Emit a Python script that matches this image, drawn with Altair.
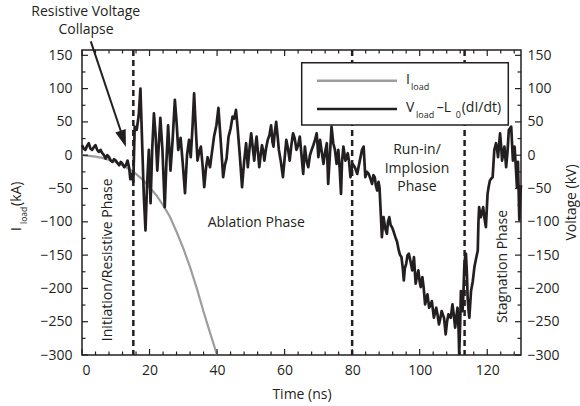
import altair as alt
import pandas as pd

# ---------------- data ----------------
volt_t = [0, 0.5, 1.0, 1.5, 2.0, 2.5, 3.0, 3.5, 4.0, 4.5, 5.0, 5.5, 6.0, 6.5, 7.0, 7.5, 8.0, 8.5, 9.0, 9.5,
          10.0, 10.5, 11.0, 11.5, 12.0, 12.5, 13.0, 13.5, 14.0, 14.3, 14.7, 15.2, 15.6, 16.2, 16.8, 17.3, 17.8,
          18.3, 18.8, 19.3, 19.8, 20.3, 20.8, 21.3, 21.8, 22.3, 22.8, 23.2, 23.8, 24.5, 25.0, 25.5, 26.2, 26.8,
          27.5, 28.0, 28.5, 29.2, 29.8, 30.5, 31.1, 31.7, 32.2, 32.7, 33.2, 33.7, 34.2, 34.7, 35.2, 35.7, 36.2,
          36.7, 37.2, 37.9, 38.5, 39.1, 39.8, 40.4, 41.1, 41.8, 42.3, 42.8, 43.4, 44.0, 44.6, 45.1, 45.6, 46.1,
          46.8, 47.4, 48.0, 48.6, 49.1, 49.6, 50.1, 50.6, 51.0, 51.4, 51.7, 52.1, 52.5, 52.9, 53.3, 53.7, 54.0,
          54.5, 55.0, 55.5, 56.0, 56.4, 56.7, 57.1, 57.5, 57.9, 58.3, 58.9, 59.5, 60.0, 60.5, 61.0, 61.5, 62.0,
          62.5, 63.0, 63.5, 64.0, 64.5, 65.0, 65.5, 66.0, 66.5, 67.0, 67.5, 68.0, 68.5, 69.0, 69.5, 70.0, 70.5,
          71.0, 71.5, 72.0, 72.5, 72.9, 73.4, 73.9, 74.4, 74.9, 75.4, 75.9, 76.3, 76.7, 77.0, 77.4, 78.0, 78.7,
          79.1, 79.5, 80.1, 80.8, 81.5, 82.2, 82.9, 83.4, 83.9, 84.4, 84.9, 85.4, 85.9, 86.3, 86.7, 87.0, 87.4,
          87.8, 88.1, 88.5, 88.8, 89.3, 89.8, 90.3, 90.6, 91.0, 91.4, 91.8, 92.3, 92.8, 93.3, 93.8, 94.2, 94.6,
          95.0, 95.3, 95.6, 96.0, 96.4, 96.8, 97.3, 97.8, 98.3, 98.8, 99.3, 99.6, 100.0, 100.3, 100.8, 101.2,
          101.6, 102.0, 102.3, 102.8, 103.2, 103.6, 104.2, 104.6, 104.9, 105.3, 105.7, 106.1, 106.5, 106.9,
          107.2, 107.7, 108.1, 108.5, 108.8, 109.2, 109.7, 110.1, 110.5, 110.8, 111.2, 111.5, 111.7, 112.0,
          112.2, 112.7, 113.0, 113.2, 113.5, 113.7, 114.0, 114.2, 114.5, 114.7, 115.0, 115.2, 115.7, 116.2,
          116.7, 117.2, 117.4, 117.6, 118.1, 118.5, 118.8, 119.2, 119.6, 120.1, 120.5, 120.8, 121.2, 121.6,
          122.1, 122.6, 122.9, 123.2, 123.8, 124.1, 124.4, 124.8, 125.1, 125.6, 126.0, 126.4, 127.1, 127.6,
          128.1, 128.5, 128.8, 129.1, 129.5, 129.8, 130.0]
volt_v = [15, 10, 8, 14, 18, 10, 8, 12, 15, 8, 5, 8, 3, 0, -5, 0, -3, -8, -10, -6,
          -8, -12, -15, -10, -13, -18, -15, -8, -20, -36, -28, -40, 43, 38, 60, 100, 20,
          -60, -113, -40, 8, -72, 10, 63, 30, -23, 20, 56, 10, -78, -10, 45, -23, 20,
          83, 50, 8, 26, -10, -57, 0, 23, -3, 40, 93, 40, -8, 5, 13, -15, -48,
          -20, -3, -18, 5, 28, 45, 71, 20, -33, -15, -5, 28, 40, 58, 55, 68, 40,
          -5, -48, -10, 18, -18, 10, 33, 10, -8, 15, 28, 5, -18, 0, 15, 5, -8,
          10, 23, 30, 45, 20, 13, 35, 50, 30, 8, -10, -33, -5, 23, 10, -8, 15,
          33, 25, 8, 15, 28, 0, -28, 13, -8, -18, 0, 8, 15, 23, 33, -3, 23,
          5, -13, 5, 18, -43, 0, 43, 18, 8, -13, 8, -20, -58, -10, 13, -8, 3,
          -10, -33, -13, -18, -28, -10, 8, 13, -33, -25, -28, -35, -43, -30, -33, -45, -53,
          -40, -48, -90, -123, -93, -110, -118, -100, -93, -105, -108, -115, -123, -130, -143, -150, -153,
          -170, -188, -170, -163, -150, -148, -160, -173, -153, -193, -180, -173, -190, -198, -183, -200,
          -224, -215, -209, -229, -225, -219, -244, -235, -229, -240, -254, -245, -234, -240,
          -244, -269, -250, -239, -242, -244, -224, -240, -259, -245, -229, -260, -298, -250,
          -204, -234, -200, -168, -150, -148, -180, -214, -235, -244, -220, -204, -190, -168,
          -155, -143, -100, -78, -93, -85, -78, -95, -108, -58, -45, -38, -35, -33,
          8, 18, 10, -3, 33, 15, -8, 5, 13, -18, 5, 38, 43, -8,
          13, -20, -48, -10, -97, -60, -45]

cur_t = [0, 2, 4, 6, 8, 10, 12, 14, 16, 18, 20, 22, 24, 26, 28, 30, 32, 34, 36, 38, 40]
cur_i = [0, -1, -2, -4, -7, -10, -15, -21, -28, -37, -48, -60, -75, -92, -115, -140, -168, -200, -235, -268, -300]

phase_bounds = [15.2, 80.0, 113.3]

x_major = [0, 20, 40, 60, 80, 100, 120]
x_minor = [4, 8, 12, 16, 24, 28, 32, 36, 44, 48, 52, 56, 64, 68, 72, 76, 84, 88, 92, 96,
           104, 108, 112, 116, 124, 128]
y_major = [-300, -250, -200, -150, -100, -50, 0, 50, 100, 150]
y_minor = [-275, -225, -175, -125, -75, -25, 25, 75, 125]

# ---------------- styling ----------------
W, H = 439, 305
INK = "#231f20"
GRAY = "#9d9d9d"
FONT = "Open Sans"

xs = alt.Scale(domain=[0, 130], nice=False, zero=False)
ys = alt.Scale(domain=[-300, 158], nice=False, zero=False)
x_axis = alt.Axis(values=x_major, ticks=False, domain=False, grid=False, title="Time (ns)",
                  labelPadding=8, titlePadding=10)
y_axis = alt.Axis(values=y_major, ticks=False, domain=False, grid=False, title=None, labelPadding=10)
y_axis_r = alt.Axis(values=y_major, ticks=False, domain=False, grid=False, title=None,
                    labelPadding=6, orient="right")


def X(f):
    return alt.X(f, type="quantitative", scale=xs, axis=x_axis)


def Y(f):
    return alt.Y(f, type="quantitative", scale=ys, axis=y_axis)


volt = pd.DataFrame({"t": volt_t, "v": volt_v})
cur = pd.DataFrame({"t": cur_t, "v": cur_i})
one = pd.DataFrame({"a": [0]})

gray_line = alt.Chart(cur).mark_line(color=GRAY, strokeWidth=2.2).encode(x=X("t"), y=Y("v"))
volt_line = alt.Chart(volt).mark_line(color=INK, strokeWidth=2.7, strokeJoin="round").encode(x=X("t"), y=Y("v"))

dashes = alt.Chart(pd.DataFrame({"t": phase_bounds})).mark_rule(
    color=INK, strokeWidth=2.5, strokeDash=[6, 4]).encode(x=X("t"))

# tick marks (inward, MATLAB style)
xmaj = pd.DataFrame({"t": x_major})
xmin = pd.DataFrame({"t": x_minor})
ymaj = pd.DataFrame({"v": y_major})
ymin = pd.DataFrame({"v": y_minor})
tick_layers = [
    alt.Chart(xmaj).mark_rule(color=INK, strokeWidth=1.2).encode(x=X("t"), y=alt.value(H), y2=alt.value(H - 6)),
    alt.Chart(xmin).mark_rule(color=INK, strokeWidth=1.2).encode(x=X("t"), y=alt.value(H), y2=alt.value(H - 3.5)),
    alt.Chart(xmaj).mark_rule(color=INK, strokeWidth=1.2).encode(x=X("t"), y=alt.value(0), y2=alt.value(6)),
    alt.Chart(xmin).mark_rule(color=INK, strokeWidth=1.2).encode(x=X("t"), y=alt.value(0), y2=alt.value(3.5)),
    alt.Chart(ymaj).mark_rule(color=INK, strokeWidth=1.2).encode(y=Y("v"), x=alt.value(0), x2=alt.value(6)),
    alt.Chart(ymin).mark_rule(color=INK, strokeWidth=1.2).encode(y=Y("v"), x=alt.value(0), x2=alt.value(3.5)),
    alt.Chart(ymaj).mark_rule(color=INK, strokeWidth=1.2).encode(y=Y("v"), x=alt.value(W), x2=alt.value(W - 6)),
    alt.Chart(ymin).mark_rule(color=INK, strokeWidth=1.2).encode(y=Y("v"), x=alt.value(W), x2=alt.value(W - 3.5)),
]

# phase labels
vert_labels = pd.DataFrame({"t": [7.7, 124.7], "v": [-157, -167],
                            "txt": ["Initiation/Resistive Phase", "Stagnation Phase"]})
horiz_labels = pd.DataFrame({"t": [51.6, 99.2, 99.2, 99.2], "v": [-102, 8, -20, -48],
                             "txt": ["Ablation Phase", "Run-in/", "Implosion", "Phase"]})
vert_text = alt.Chart(vert_labels).mark_text(angle=270, font=FONT, fontSize=14, color=INK,
                                             align="center", baseline="middle").encode(
    x=X("t"), y=Y("v"), text="txt:N")
horiz_text = alt.Chart(horiz_labels).mark_text(font=FONT, fontSize=14, color=INK,
                                               align="center", baseline="middle").encode(
    x=X("t"), y=Y("v"), text="txt:N")

# annotation with arrow
ann = pd.DataFrame({"t": [1.1, 1.2], "v": [215, 188], "txt": ["Resistive Voltage", "Collapse"]})
ann_text = alt.Chart(ann).mark_text(font=FONT, fontSize=14, color=INK, align="center",
                                    baseline="middle").encode(x=X("t"), y=Y("v"), text="txt:N")
arrow = pd.DataFrame({"t": [2.6], "v": [171], "t2": [12.1], "v2": [27]})
arrow_shaft = alt.Chart(arrow).mark_rule(color=INK, strokeWidth=2).encode(
    x=X("t"), y=Y("v"), x2="t2", y2="v2")
head = pd.DataFrame({"t": [13.0], "v": [12.4]})
arrow_head = alt.Chart(head).mark_point(shape="M0,0L0.32,1L-0.32,1Z", size=1156, angle=161.6,
                                        filled=True, color=INK, opacity=1).encode(x=X("t"), y=Y("v"))

# legend (drawn in plot pixels)
legend_box = alt.Chart(one).mark_rect(fill="white", stroke=INK, strokeWidth=1.5).encode(
    x=alt.value(219.7), x2=alt.value(426.3), y=alt.value(12.7), y2=alt.value(75))
leg_gray = alt.Chart(one).mark_rule(color=GRAY, strokeWidth=2.4).encode(
    x=alt.value(235), x2=alt.value(315), y=alt.value(30.7))
leg_black = alt.Chart(one).mark_rule(color=INK, strokeWidth=2.4).encode(
    x=alt.value(235), x2=alt.value(315), y=alt.value(59))


def txt(s, x, y, size, angle=0):
    kw = dict(font=FONT, fontSize=size, color=INK, align="left", baseline="alphabetic", text=s)
    if angle:
        kw["angle"] = angle
    return alt.Chart(one).mark_text(**kw).encode(x=alt.value(x), y=alt.value(y))


legend_texts = [
    txt("I", 324, 34.3, 14),
    txt("load", 329, 40, 9),
    txt("V", 324, 61.7, 14),
    txt("load", 334, 68.3, 9),
    txt("–L", 354.7, 61.7, 14),
    txt("0", 373.7, 68.3, 9),
    txt("(dI/dt)", 379.7, 61.7, 14),
]

# axis titles
ytitle = [
    txt("I", -61.5, 181, 14, 270),
    txt("load", -55.3, 174, 8.5, 270),
    txt("(kA)", -61.5, 156, 14, 270),
]
rtitle = alt.Chart(one).mark_text(font=FONT, fontSize=14, color=INK, align="center", baseline="middle",
                                  angle=270, text="Voltage (kV)").encode(x=alt.value(489.5), y=alt.value(152.5))

main = alt.layer(gray_line, volt_line, dashes, *tick_layers, vert_text, horiz_text, ann_text,
                 arrow_shaft, arrow_head, legend_box, leg_gray, leg_black, *legend_texts, *ytitle, rtitle)

right = alt.Chart(volt).mark_point(opacity=0).encode(
    x=X("t"), y=alt.Y("v", type="quantitative", scale=ys, axis=y_axis_r))

chart = alt.layer(main, right).resolve_scale(y="independent").properties(
    width=W, height=H,
    autosize=alt.AutoSizeParams(type="none"),
    padding={"left": 82, "top": 50, "right": 580 - 82 - W, "bottom": 406 - 50 - H},
    background="white",
).configure_view(stroke=INK, strokeWidth=1.5).configure_axis(
    labelFont=FONT, labelFontSize=14, labelColor=INK, titleFont=FONT, titleFontSize=14,
    titleColor=INK, titleFontWeight="normal")

chart.save("out.html", embed_options={"renderer": "svg", "actions": False})
